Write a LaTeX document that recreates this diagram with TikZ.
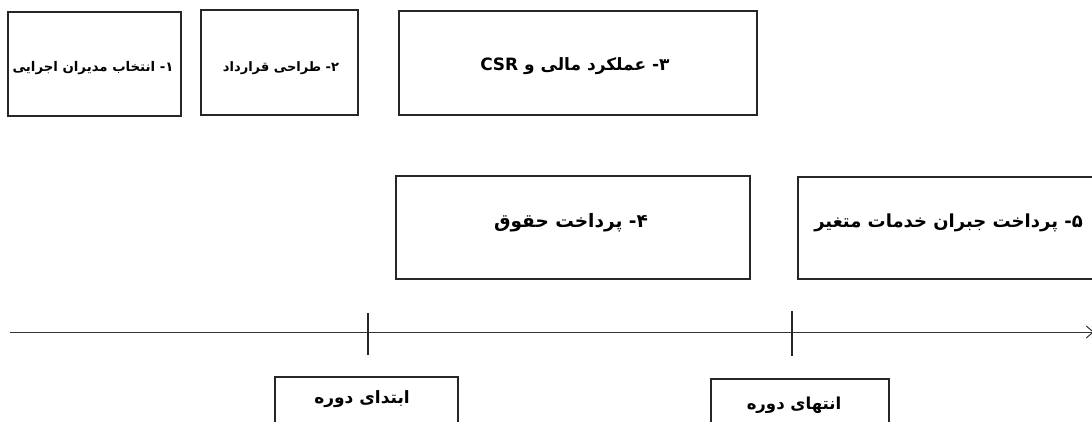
\documentclass[tikz,border=0pt]{standalone}
\usepackage{fontspec}
\newfontfamily\fa[Script=Arabic]{DejaVu Sans}
\TeXXeTstate=1
\usetikzlibrary{arrows.meta}
\tikzset{
  box/.style={draw=black!85, line width=2pt, inner sep=0pt},
  lbl/.style={text=black, inner sep=0pt},
  axisline/.style={draw=black!80, line width=1pt},
  tick/.style={draw=black!85, line width=1.2pt}
}
\newcommand{\fs}[1]{\fa\bfseries\fontsize{#1}{#1}\selectfont}
\begin{document}
\begin{tikzpicture}[x=1pt,y=-1pt]
\useasboundingbox (0,0) rectangle (1092,421);
\clip (0,0) rectangle (1092,421);
\fill[white] (0,0) rectangle (1092,421);
% top row
\node[box, minimum width=173, minimum height=104] (b1) at (94.5,64) {};
\node[lbl, font=\fs{13.3}] (t1) at (93,68) {\beginR ۱- انتخاب مدیران اجرایی\endR};
\node[box, minimum width=157, minimum height=105] (b2) at (279.5,62.5) {};
\node[lbl, font=\fs{13}] (t2) at (281,68) {\beginR ۲- طراحی قرارداد\endR};
\node[box, minimum width=358, minimum height=104] (b3) at (578,63) {};
\node[lbl, font=\fs{17}] (t3) at (575,66) {\beginR ۳- عملکرد مالی و \beginL CSR\endL\endR};
% middle row
\node[box, minimum width=354, minimum height=103] (b4) at (573,227.5) {};
\node[lbl, font=\fs{18.5}] (t4) at (571,223) {\beginR ۴- پرداخت حقوق\endR};
\node[box, minimum width=320, minimum height=102, anchor=west] (b5) at (797,228) {};
\node[lbl, font=\fs{18}, anchor=east] (t5) at (1083,223) {\beginR ۵- پرداخت جبران خدمات متغیر\endR};
% axis
\coordinate (a0) at (10,332);
\coordinate (a1) at (1094,332);
\draw[axisline, -{Straight Barb[length=7pt,width=12pt]}] (a0) -- (a1);
\coordinate (k1t) at (368,313);
\coordinate (k1b) at (368,355);
\coordinate (k2t) at (792,311);
\coordinate (k2b) at (792,356);
\draw[tick] (k1t) -- (k1b);
\draw[tick] (k2t) -- (k2b);
% bottom boxes
\node[box, line width=1.6pt, minimum width=183, minimum height=70, anchor=north] (p1) at (366.5,376) {};
\node[lbl, font=\fs{17}] (q1) at (362,399) {\beginR ابتدای دوره\endR};
\node[box, line width=1.6pt, minimum width=178, minimum height=70, anchor=north] (p2) at (800,378) {};
\node[lbl, font=\fs{16.5}] (q2) at (794,405) {\beginR انتهای دوره\endR};
\end{tikzpicture}
\end{document}
